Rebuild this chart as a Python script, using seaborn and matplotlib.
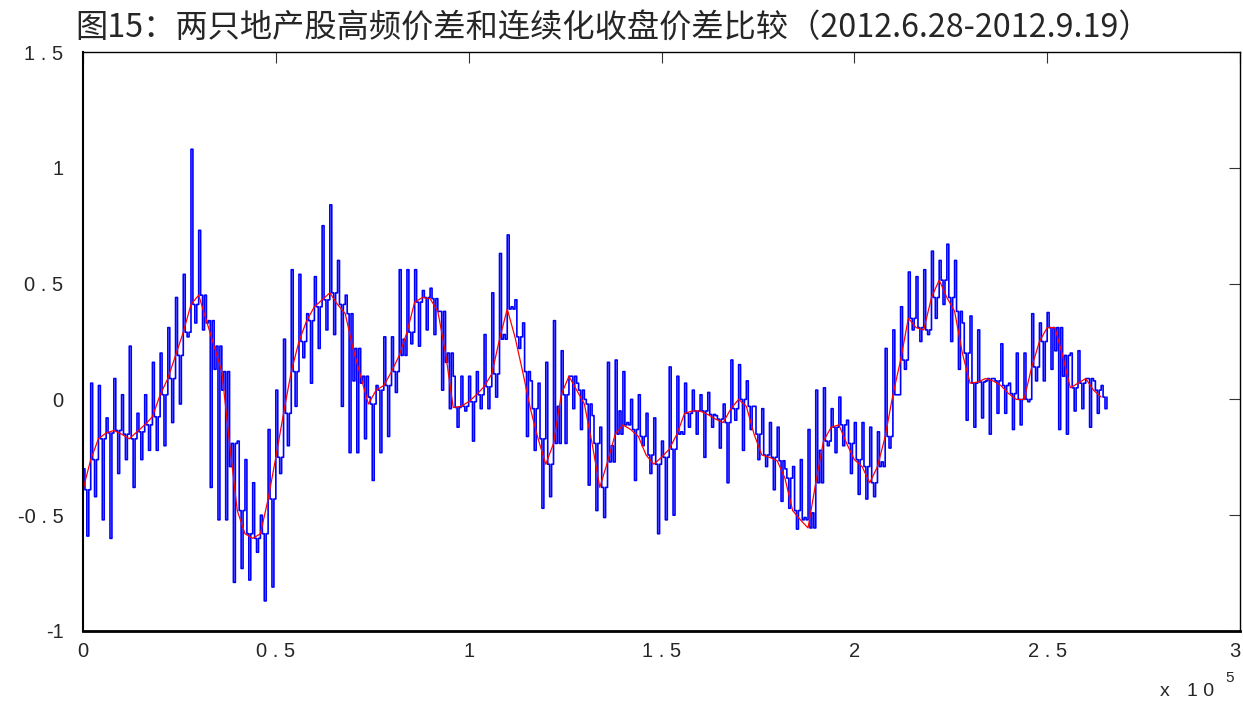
import matplotlib
matplotlib.use("Agg")
import matplotlib.pyplot as plt
import seaborn as sns
import numpy as np
import pandas as pd

# ---- data ----
seg_step = 2000  # sample spacing of the arrays below (x units)

# continuous closing-price spread (red)
red_vals = [
    -0.39, -0.26, -0.17, -0.145, -0.134, -0.15, -0.17, -0.14, -0.11, -0.075,
    0.02, 0.09, 0.19, 0.29, 0.41, 0.45, 0.34, 0.23, 0.12, -0.19,
    -0.48, -0.58, -0.60, -0.58, -0.43, -0.25, -0.06, 0.12, 0.25, 0.34,
    0.40, 0.43, 0.46, 0.41, 0.37, 0.22, 0.10, -0.02, 0.04, 0.06,
    0.12, 0.19, 0.29, 0.42, 0.44, 0.435, 0.38, 0.20, -0.035, -0.03,
    -0.01, 0.02, 0.055, 0.11, 0.26, 0.39, 0.27, 0.12, -0.04, -0.17,
    -0.28, -0.19, 0.02, 0.10, 0.04, -0.02, -0.19, -0.38, -0.27, -0.15,
    -0.11, -0.13, -0.16, -0.24, -0.28, -0.25, -0.215, -0.15, -0.06, -0.05,
    -0.05, -0.065, -0.085, -0.10, -0.04, 0.0, -0.03, -0.15, -0.24, -0.25,
    -0.265, -0.34, -0.48, -0.52, -0.555, -0.36, -0.18, -0.12, -0.11, -0.19,
    -0.26, -0.29, -0.36, -0.29, -0.16, 0.02, 0.17, 0.35, 0.31, 0.30,
    0.44, 0.515, 0.44, 0.38, 0.20, 0.07, 0.075, 0.09, 0.08, 0.06,
    0.025, 0.0, 0.0, 0.14, 0.25, 0.31, 0.31, 0.19, 0.05, 0.07,
    0.09, 0.04, 0.01,
]

# high-frequency spread (blue): upper and lower swing in each 2000-unit slot
blue_hi = [
    -0.30, 0.07, 0.06, -0.08, 0.09, 0.02, 0.23, -0.06, 0.02, 0.16,
    0.20, 0.31, 0.44, 0.54, 1.08, 0.73, 0.33, 0.13, 0.04, -0.29,
    -0.18, -0.26, -0.36, -0.50, -0.13, 0.04, 0.26, 0.56, 0.54, 0.37,
    0.53, 0.75, 0.84, 0.60, 0.45, 0.08, 0.07, 0.01, 0.06, 0.27,
    0.27, 0.56, 0.56, 0.56, 0.47, 0.48, 0.38, 0.16, 0.10, 0.10,
    0.10, 0.12, 0.28, 0.46, 0.63, 0.71, 0.43, 0.33, 0.08, 0.07,
    0.16, 0.34, 0.21, 0.10, 0.07, 0.0, -0.07, -0.12, 0.16, 0.17,
    0.12, 0.0, 0.02, -0.06, -0.08, -0.18, 0.14, 0.10, 0.07, 0.04,
    0.02, 0.03, -0.07, -0.02, 0.17, 0.15, 0.08, -0.03, -0.04, -0.10,
    -0.12, -0.30, -0.29, -0.26, -0.13, 0.04, 0.05, -0.04, 0.01, -0.09,
    -0.10, -0.10, -0.12, -0.14, 0.22, 0.30, 0.40, 0.55, 0.53, 0.56,
    0.64, 0.60, 0.67, 0.60, 0.33, 0.36, 0.30, 0.08, 0.09, 0.24,
    0.07, 0.20, 0.20, 0.37, 0.33, 0.375, 0.21, 0.10, 0.20, 0.21,
    0.09, 0.08, 0.06,
]
blue_lo = [
    -0.59, -0.42, -0.52, -0.60, -0.32, -0.26, -0.38, -0.26, -0.22, -0.22,
    -0.20, -0.10, -0.02, 0.27, 0.33, 0.30, -0.38, -0.52, -0.52, -0.79,
    -0.73, -0.78, -0.66, -0.87, -0.81, -0.32, -0.20, -0.03, 0.18, 0.07,
    0.22, 0.30, 0.28, -0.03, -0.23, -0.23, -0.17, -0.35, -0.23, -0.16,
    0.03, 0.26, 0.24, 0.23, 0.30, 0.28, 0.04, -0.04, -0.12, -0.05,
    -0.18, -0.04, -0.04, 0.01, 0.28, 0.40, 0.22, -0.16, -0.22, -0.47,
    -0.42, -0.03, -0.19, -0.04, -0.13, -0.37, -0.48, -0.51, -0.20, -0.05,
    -0.10, -0.35, -0.20, -0.32, -0.58, -0.52, -0.50, -0.14, -0.12, -0.15,
    -0.25, -0.12, -0.21, -0.36, -0.09, -0.22, -0.13, -0.26, -0.29, -0.39,
    -0.44, -0.47, -0.56, -0.51, -0.49, -0.22, -0.20, -0.23, -0.20, -0.32,
    -0.41, -0.43, -0.42, -0.27, -0.21, 0.02, 0.13, 0.30, 0.25, 0.28,
    0.35, 0.41, 0.25, 0.13, -0.09, -0.12, -0.08, -0.15, -0.06, -0.06,
    -0.13, -0.11, -0.01, 0.08, 0.08, 0.13, -0.13, -0.15, -0.05, -0.04,
    -0.12, -0.06, -0.04,
]

x_ticks = [0, 50000, 100000, 150000, 200000, 250000, 300000]
x_tick_labels = ["0", "0 . 5", "1", "1 . 5", "2", "2 . 5", "3"]
y_ticks = [-1, -0.5, 0, 0.5, 1, 1.5]
y_tick_labels = ["-1", "-0 . 5", "0", "0 . 5", "1", "1 . 5"]
title = "图15：两只地产股高频价差和连续化收盘价差比较（2012.6.28-2012.9.19）"

# ---- build frames ----
n = len(red_vals)
red_df = pd.DataFrame({"x": np.arange(n) * seg_step, "y": red_vals})
bx, by = [], []
q = seg_step / 4
for k in range(len(blue_hi)):
    x0 = k * seg_step
    bx += [x0, x0 + q, x0 + 2 * q, x0 + 3 * q]
    by += [blue_hi[k], red_vals[k], blue_lo[k], red_vals[k]]
blue_df = pd.DataFrame({"x": bx, "y": by})

# ---- plot ----
sns.set_theme(style="white")
plt.rcParams["font.family"] = ["Liberation Sans", "DejaVu Sans"]

fig = plt.figure(figsize=(12.43, 7.01), dpi=100)
ax = fig.add_axes([83 / 1243, 1 - 631 / 701, (1240 - 83) / 1243, (631 - 52) / 701])

sns.lineplot(data=blue_df, x="x", y="y", ax=ax, color="#0000ff", lw=1.2,
             sort=False, estimator=None, drawstyle="steps-post")
sns.lineplot(data=red_df, x="x", y="y", ax=ax, color="#ff0000", lw=0.9,
             sort=False, estimator=None)

ax.set_xlim(0, 300000)
ax.set_ylim(-1, 1.5)
ax.set_xticks(x_ticks)
ax.set_xticklabels(x_tick_labels)
ax.set_yticks(y_ticks)
ax.set_yticklabels(y_tick_labels)
ax.set_xlabel("")
ax.set_ylabel("")
ax.tick_params(axis="both", direction="in", length=8, width=0.8, color="#333333",
               labelsize=14.5, top=True, right=True)
ax.tick_params(axis="x", pad=8)
ax.tick_params(axis="y", pad=14)
ax.get_xticklabels()[-1].set_horizontalalignment("right")
for s in ax.spines.values():
    s.set_color("black")
    s.set_visible(True)
ax.spines["bottom"].set_linewidth(2.0)
ax.spines["left"].set_linewidth(1.5)
ax.spines["top"].set_linewidth(1.0)
ax.spines["right"].set_linewidth(1.0)
ax.grid(False)

fig.text(75 / 1243, 1 - 29 / 701, title, ha="left", va="center", fontsize=23.2,
         family=["Noto Sans CJK SC", "DejaVu Sans"])
fig.text(1160 / 1243, 1 - 691 / 701, "x", ha="left", va="center", fontsize=14)
fig.text(1187 / 1243, 1 - 691 / 701, "1 0", ha="left", va="center", fontsize=14)
fig.text(1225 / 1243, 1 - 678 / 701, "5", ha="left", va="center", fontsize=11)

fig.savefig("out.png", dpi=100, facecolor="white")
